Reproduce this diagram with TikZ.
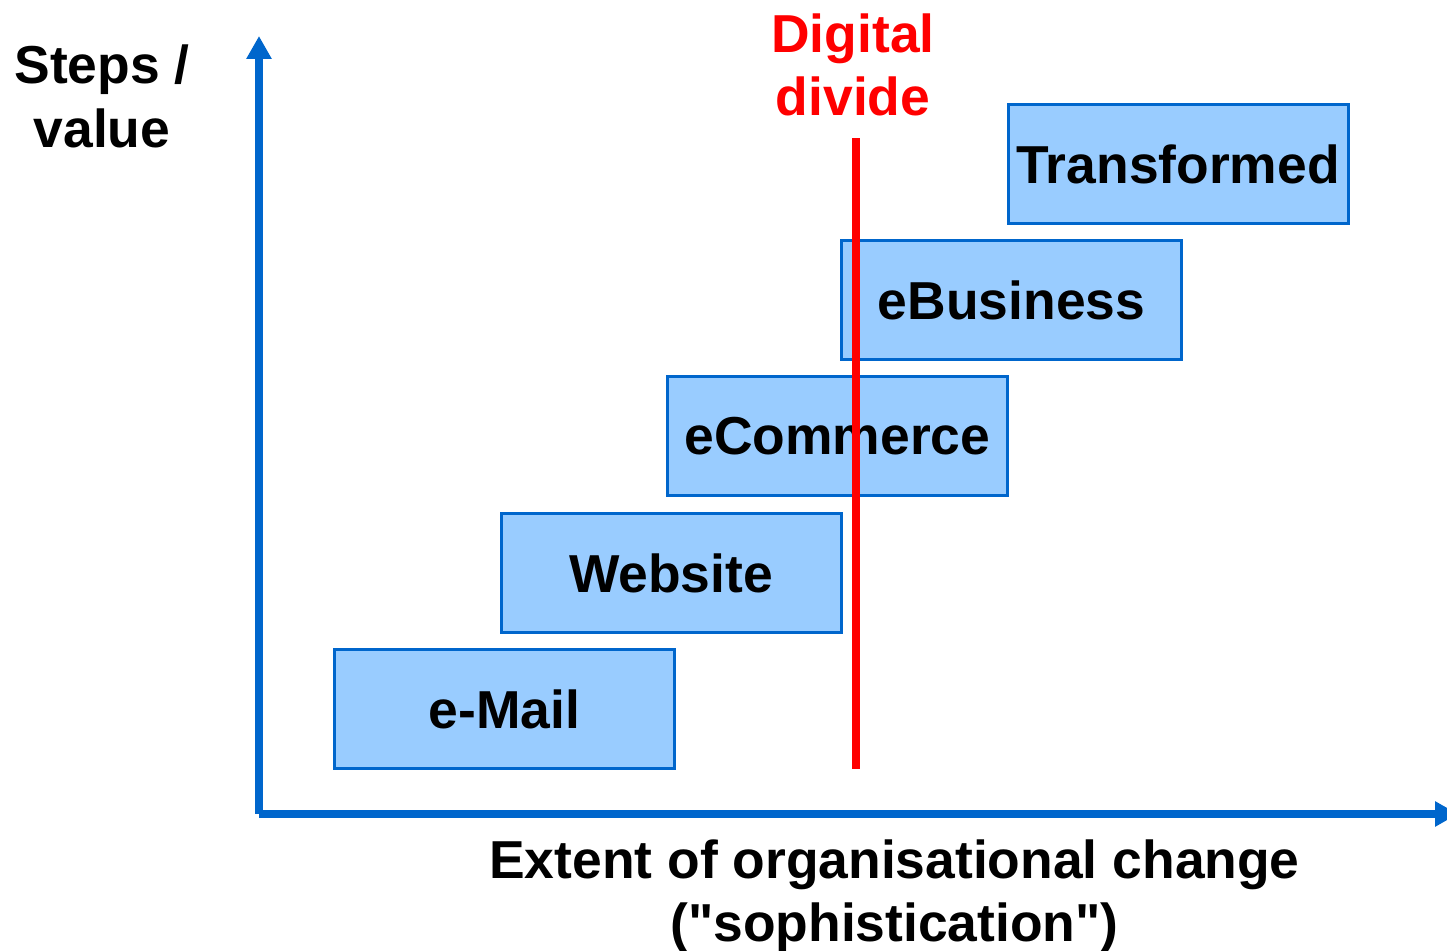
\documentclass[tikz,border=0pt]{standalone}
\usepackage{fontspec}
\setmainfont{Liberation Sans}[Ligatures=TeXOff]
\usetikzlibrary{arrows.meta}
\definecolor{stepfill}{HTML}{99CCFF}
\definecolor{stepline}{HTML}{0066CC}
\tikzset{
	stage/.style={draw=stepline, fill=stepfill, line width=0.03cm, minimum width=3.40cm, minimum height=1.19cm, inner sep=0pt, font=\fontsize{15.2}{18}\selectfont\bfseries},
	axis/.style={draw=stepline, line width=0.075cm, -{Triangle[width=0.24cm, length=0.23cm]}},
	label/.style={align=center, inner sep=0pt, font=\fontsize{15.2}{18}\selectfont\bfseries}
}

\begin{document}
\begin{tikzpicture}
		%%%%% START %%%%%
		\useasboundingbox (0, 0) rectangle (14.47, 9.51);
		
		\coordinate (origin) at (2.59, 1.37);
		\coordinate (ytip) at (2.59, 9.15);
		\coordinate (xtip) at (14.58, 1.37);
		
		\draw[axis] (origin) -- (ytip);
		\draw[axis] (origin) -- (xtip);
		
		\node[label] (yname) at (1.02, 8.545) {Steps /\\value};
		\node[label] (xname) at (8.945, 0.55) {Extent of organisational change\\("sophistication")};
		
		\node[stage] (email) at (5.045, 2.42) {e-Mail};
		\node[stage] (website) at (6.71, 3.78) {Website};
		\node[stage] (ecommerce) at (8.375, 5.15) {eCommerce};
		\node[stage] (ebusiness) at (10.115, 6.505) {eBusiness};
		\node[stage] (transformed) at (11.78, 7.865) {Transformed};
		
		\coordinate (dtop) at (8.56, 8.13);
		\coordinate (dbot) at (8.56, 1.82);
		\draw[line width=0.075cm, color=red] (dbot) -- (dtop);
		\node[label, text=red] (divide) at (8.53, 8.86) {Digital\\divide};
		
		%%%%% END %%%%%
	\end{tikzpicture}
\end{document}
